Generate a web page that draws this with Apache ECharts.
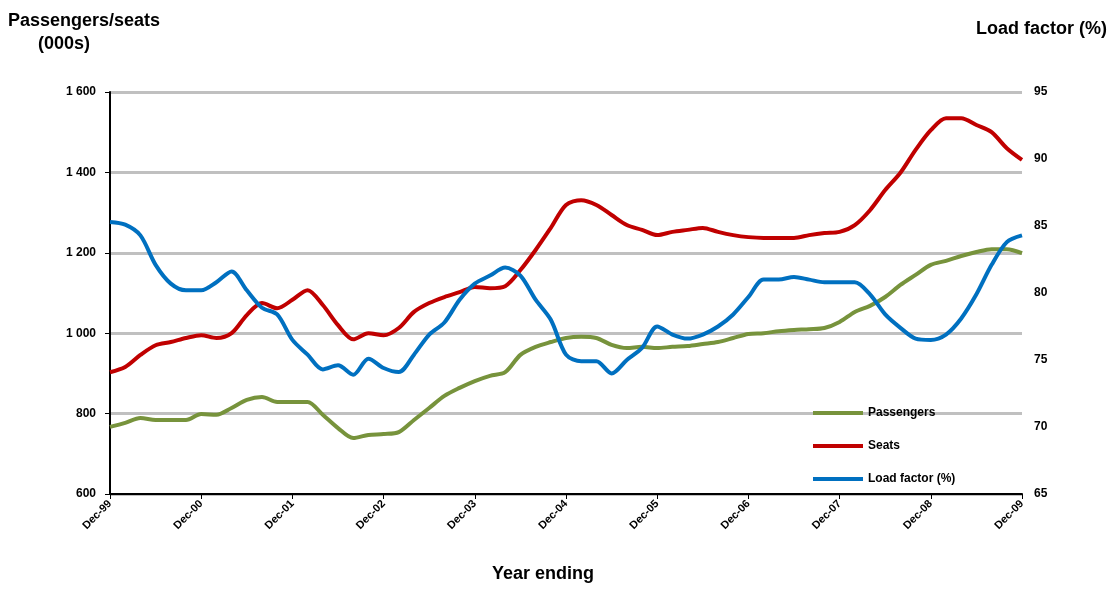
<!DOCTYPE html>
<html><head><meta charset="utf-8">
<script src="https://cdn.jsdelivr.net/npm/echarts@6/dist/echarts.min.js"></script>
<style>body{margin:0}#c{width:1113px;height:590px}</style></head>
<body><div id="c"></div>
<script>
// bi-monthly points, Dec-99 .. Dec-09
var monthNames = ['Dec','Feb','Apr','Jun','Aug','Oct'];
var periods = [];
for (var i = 0; i <= 60; i++) {
    var yr = 99 + Math.floor((i + 5) / 6);
    periods.push(monthNames[i % 6] + '-' + String(yr % 100).padStart(2, '0'));
}
var seats = [903,916,946,970,978,988,995,988,1000,1045,1075,1062,1083,1107,1070,1020,985,1000,995,1013,1053,1075,1090,1102,1115,1112,1117,1157,1207,1262,1319,1331,1319,1294,1269,1257,1244,1252,1257,1262,1252,1244,1239,1237,1237,1237,1244,1249,1252,1269,1306,1356,1399,1456,1505,1535,1535,1518,1500,1460,1431];
var passengers = [767,777,789,784,784,784,799,797,814,834,841,829,829,829,797,764,739,747,749,754,784,814,844,864,881,894,903,946,966,978,988,991,988,971,963,966,963,966,968,973,978,988,998,1000,1005,1008,1010,1013,1028,1053,1068,1090,1120,1145,1170,1180,1192,1202,1209,1209,1199];
var loadFactor = [85.3,85.1,84.3,82.1,80.7,80.2,80.2,80.8,81.6,80.2,78.9,78.4,76.5,75.4,74.3,74.6,73.9,75.1,74.4,74.1,75.4,76.9,77.8,79.5,80.7,81.3,81.9,81.3,79.5,78.0,75.4,74.9,74.9,74.0,75.0,75.9,77.5,76.9,76.6,76.9,77.5,78.4,79.7,81.0,81.0,81.2,81.0,80.8,80.8,80.8,79.9,78.4,77.4,76.6,76.5,76.9,78.1,79.9,82.1,83.8,84.3];

var chart = echarts.init(document.getElementById('c'));
var font = 'Liberation Sans, Arial, sans-serif';
function line(name, data, color, axis) {
    return {name: name, type: 'line', data: data, yAxisIndex: axis, symbol: 'none',
        smooth: 0.3, lineStyle: {color: color, width: 4}, itemStyle: {color: color}};
}
chart.setOption({
    animation: false,
    textStyle: {fontFamily: font},
    grid: {left: 110, right: 91, top: 92, bottom: 96},
    graphic: [
        {type: 'text', left: 8, top: 10, style: {text: 'Passengers/seats\n      (000s)', font: 'bold 18px ' + font, fill: '#000', lineHeight: 23}},
        {type: 'text', right: 6, top: 20, style: {text: 'Load factor (%)', font: 'bold 18px ' + font, fill: '#000'}},
        {type: 'text', left: 492, top: 565, style: {text: 'Year ending', font: 'bold 18px ' + font, fill: '#000'}}
    ],
    legend: {orient: 'vertical', left: 808, top: 402, itemGap: 21, itemWidth: 50, itemHeight: 4,
        icon: 'rect', textStyle: {fontSize: 12, fontWeight: 'bold', fontFamily: font, color: '#000'},
        data: ['Passengers', 'Seats', 'Load factor (%)']},
    xAxis: {type: 'category', data: periods, boundaryGap: false,
        axisLine: {lineStyle: {color: '#000', width: 2}},
        axisTick: {interval: 5, length: 5, lineStyle: {color: '#000'}},
        axisLabel: {interval: 5, rotate: 45, color: '#000', fontSize: 11, fontWeight: 'bold', margin: 8}},
    yAxis: [
        {type: 'value', min: 600, max: 1600, interval: 200,
            axisLine: {show: true, lineStyle: {color: '#000', width: 2}},
            axisTick: {show: true, lineStyle: {color: '#000'}},
            axisLabel: {color: '#000', fontSize: 12, fontWeight: 'bold', margin: 14,
                formatter: function (v) { return v >= 1000 ? Math.floor(v / 1000) + ' ' + String(v % 1000).padStart(3, '0') : v; }},
            splitLine: {lineStyle: {color: '#c0c0c0', width: 3}}},
        {type: 'value', min: 65, max: 95, interval: 5,
            axisLine: {show: false}, axisTick: {show: false},
            axisLabel: {color: '#000', fontSize: 12, fontWeight: 'bold', margin: 12},
            splitLine: {show: false}}
    ],
    series: [
        line('Passengers', passengers, '#77933c', 0),
        line('Seats', seats, '#c00000', 0),
        line('Load factor (%)', loadFactor, '#0070c0', 1)
    ]
});
</script></body></html>
